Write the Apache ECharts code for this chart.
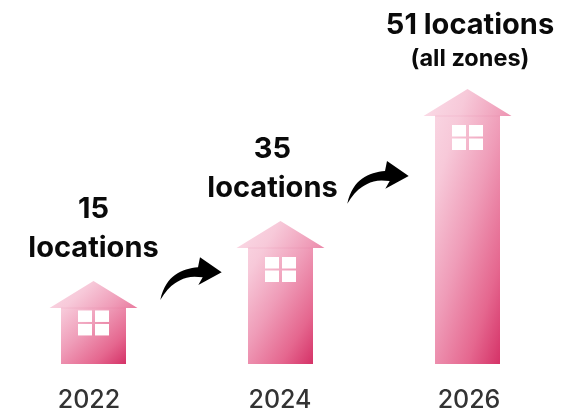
<!DOCTYPE html>
<html><head><meta charset="utf-8">
<style>html,body{margin:0;padding:0;background:#fff}#c{width:579px;height:414px}</style>
<script src="https://cdn.jsdelivr.net/npm/echarts@6/dist/echarts.min.js"></script>
</head><body><div id="c"></div>
<script>
const years = ['2022','2024','2026'];
const locations = [15,35,51];
const heights = [30.2,52,100];
const captionLines = [['15','locations'],['35','locations'],['51 locations','(all zones)']];
const captionShift = [0,-8,2.5];
const yearShift = [-4.5,-0.5,1.5];
const windowDrop = [2.5,9,9];
const FONT='Inter';
const chart=echarts.init(document.getElementById('c'),null,{renderer:'canvas'});
function renderHouse(params,api){
  const i=params.dataIndex;
  const base=api.coord([api.value(0),0]);
  const top=api.coord([api.value(0),api.value(1)]);
  const cx=base[0], by=base[1], ay=top[1];
  const hw=32.5, rw=44, rh=27;
  const ey=ay+rh;
  const W=2*rw, H=by-ay, s=2/(H/W+W/H);
  const fill=new echarts.graphic.LinearGradient(cx-rw,ay,cx-rw+s*H,ay+s*W,[
    {offset:0,color:'#fbdde8'},{offset:0.25,color:'#f7c9d9'},{offset:0.5,color:'#ef9cb8'},{offset:0.75,color:'#e5678f'},{offset:1,color:'#cf1f59'}
  ],true);
  const wy=ey+windowDrop[i], wx=cx-15.5;
  const pane=(x,y,w,h)=>({type:'rect',shape:{x,y,width:w,height:h},style:{fill:'#fff'}});
  const kids=[
    {type:'polygon',shape:{points:[[cx,ay],[cx+rw,ey],[cx+hw,ey],[cx+hw,by],[cx-hw,by],[cx-hw,ey],[cx-rw,ey]]},style:{fill}},
    {type:'rect',shape:{x:cx-hw,y:ey-0.5,width:2*hw,height:1},style:{fill:'rgba(226,90,135,0.12)'}},
    pane(wx,wy,14,11.5),pane(wx+17,wy,14,11.5),pane(wx,wy+13.5,14,11.5),pane(wx+17,wy+13.5,14,11.5)
  ];
  const lines=captionLines[i], tx=cx+captionShift[i];
  const big=lines[1]==='(all zones)';
  kids.push({type:'text',style:{text:lines[1],x:tx,y:ay-18,align:'center',verticalAlign:'bottom',font:(big?'700 23.5px ':'700 29px ')+FONT,fill:'#0a0a0a'}});
  kids.push({type:'text',style:{text:lines[0],x:tx,y:ay-(big?49:57),align:'center',verticalAlign:'bottom',font:'700 29px '+FONT,fill:'#0a0a0a'}});
  return {type:'group',children:kids};
}
const arrowPath='M160.3 300C163 287 169 279 175 275C182 270 190 268 198 267.3L200 257.3L221.7 272.3L198.3 285L202.7 277.3C196 276.5 191 276.5 186.7 277.7C182 279 178 281 175 283.3C170 286.5 165 292 160.3 300Z';
function renderArrow(params){
  const k=params.dataIndex;
  return {type:'path',x:k*187,y:k*-96.3,shape:{pathData:arrowPath},style:{fill:'#000'}};
}
chart.setOption({
  animation:false,
  backgroundColor:'#fff',
  grid:{left:0,top:89,width:561,height:275},
  xAxis:{type:'category',
    data:years.map((y,i)=>({value:y,textStyle:{padding:[0,yearShift[i]<0?-2*yearShift[i]:0,0,yearShift[i]>0?2*yearShift[i]:0]}})),
    axisLine:{show:false},axisTick:{show:false},axisLabel:{margin:24,fontFamily:FONT,fontSize:25,color:'#333',fontWeight:500}},
  yAxis:{type:'value',min:0,max:100,show:false,splitLine:{show:false}},
  series:[{type:'custom',renderItem:renderHouse,encode:{x:0,y:1},clip:false,
    data:years.map((y,i)=>[i,heights[i],locations[i]])},
    {type:'custom',renderItem:renderArrow,clip:false,silent:true,data:[[0,0],[1,0]]}]
});
</script></body></html>
